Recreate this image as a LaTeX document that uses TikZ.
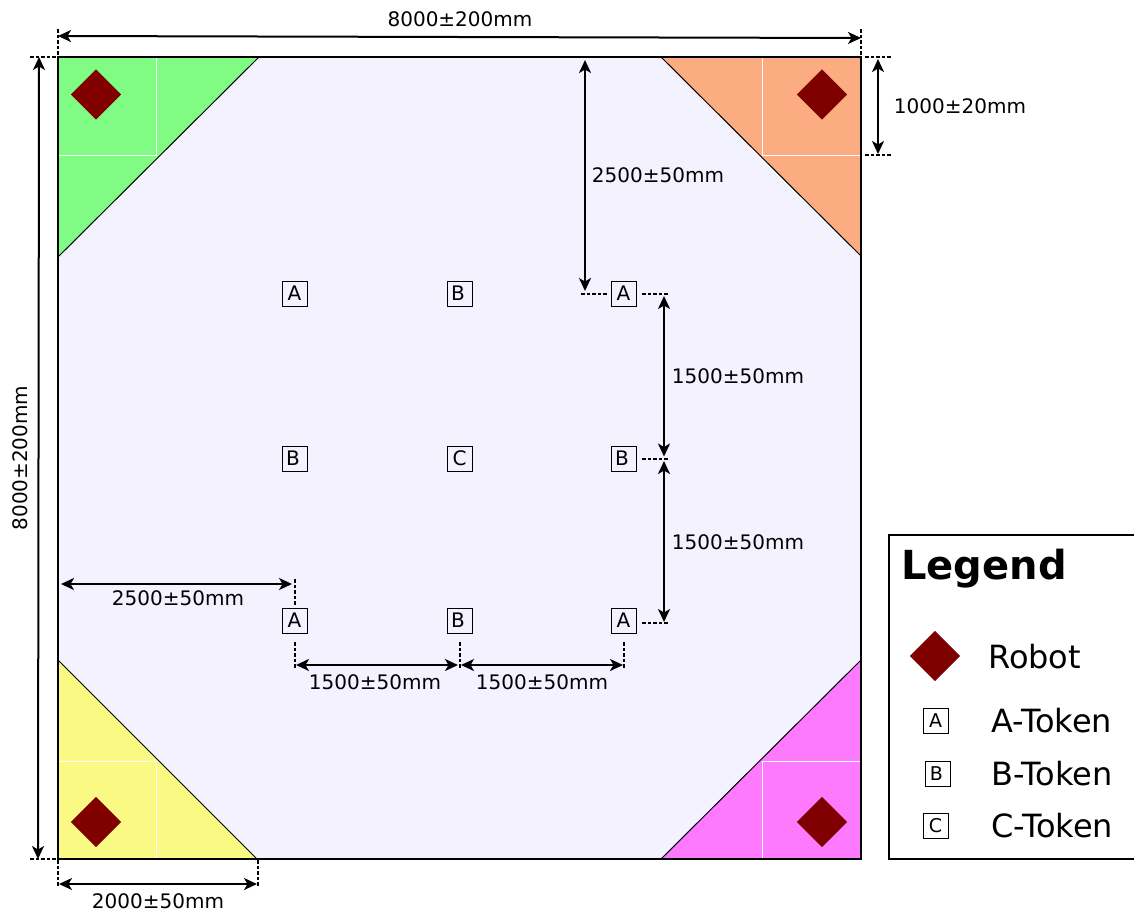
\documentclass[tikz,border=0pt]{standalone}
\usepackage{fontspec}
\setmainfont{DejaVu Sans}
\usetikzlibrary{arrows.meta}
\definecolor{fieldc}{HTML}{F4F2FF}
\definecolor{greenc}{HTML}{80FC84}
\definecolor{orangec}{HTML}{FBAD81}
\definecolor{yellowc}{HTML}{F9F983}
\definecolor{magentac}{HTML}{FD79FD}
\definecolor{robotc}{HTML}{800000}
\tikzset{
  border/.style={draw=black,line width=2pt,line join=miter},
  diag/.style={draw=black,line width=1pt},
  whitebox/.style={draw=white,line width=1pt},
  robotmark/.style={fill=robotc,draw=none,shape=rectangle,inner sep=0pt,minimum size=35.4pt,rotate=45},
  token/.style={draw=black,line width=0.9pt,inner sep=0pt,minimum size=25pt,font=\fontsize{20}{20}\selectfont},
  ltoken/.style={token,minimum size=25pt,font=\fontsize{19}{19}\selectfont},
  dimline/.style={draw=black,line width=2pt,{Stealth[length=13pt,width=12pt,inset=3.5pt]}-{Stealth[length=13pt,width=12pt,inset=3.5pt]}},
  extline/.style={draw=black,line width=1.8pt,dash pattern=on 3.6pt off 2pt},
  dimtext/.style={inner sep=0pt,font=\fontsize{20}{20}\selectfont},
  legtext/.style={inner sep=0pt,anchor=base west,font=\fontsize{32}{32}\selectfont},
}
\begin{document}
\begin{tikzpicture}[x=1pt,y=-1pt]
\useasboundingbox (0,0) rectangle (1134,916);
% field
\fill[fieldc] (58,57) rectangle (861,859);
\fill[greenc] (58,57) -- (259,57) -- (58,257) -- cycle;
\fill[orangec] (861,57) -- (661,57) -- (861,256) -- cycle;
\fill[yellowc] (58,859) -- (257,859) -- (58,660) -- cycle;
\fill[magentac] (861,859) -- (661,859) -- (861,660) -- cycle;
\draw[whitebox] (58,155.5) -- (156.5,155.5) -- (156.5,57);
\draw[whitebox] (861,155.5) -- (762.5,155.5) -- (762.5,57);
\draw[whitebox] (58,761.5) -- (156.5,761.5) -- (156.5,859);
\draw[whitebox] (861,761.5) -- (762.5,761.5) -- (762.5,859);
\draw[diag] (259,57) -- (58,257);
\draw[diag] (661,57) -- (861,256);
\draw[diag] (257,859) -- (58,660);
\draw[diag] (661,859) -- (861,660);
\draw[border] (58,57) rectangle (861,859);
% robots
\node[robotmark] (r1) at (96,94.5) {};
\node[robotmark] (r2) at (822,94.5) {};
\node[robotmark] (r3) at (96,822) {};
\node[robotmark] (r4) at (822,822) {};
% tokens
\node[token] (t11) at (294.5,293.5) {A};
\node[token] (t12) at (459.5,293.5) {\hspace*{-3pt}B};
\node[token] (t13) at (623.5,293.5) {A};
\node[token] (t21) at (294.5,458.5) {\hspace*{-3pt}B};
\node[token] (t22) at (459.5,458.5) {C};
\node[token] (t23) at (623.5,458.5) {\hspace*{-3pt}B};
\node[token] (t31) at (294.5,620.5) {A};
\node[token] (t32) at (459.5,620.5) {\hspace*{-3pt}B};
\node[token] (t33) at (623.5,620.5) {A};
% anchors for dimension lines
\coordinate (tl) at (58,57);
\coordinate (tr) at (861,57);
\coordinate (bl) at (58,859);
\coordinate (br) at (861,859);
\coordinate (tlT) at (58,29); \coordinate (trT) at (861,29);
\coordinate (tlL) at (30,57); \coordinate (blL) at (30,859);
\coordinate (dTa) at (58,36); \coordinate (dTb) at (861,38);
\coordinate (dLa) at (39,57); \coordinate (dLb) at (38,859);
\coordinate (e1a) at (865,57); \coordinate (e1b) at (891,57);
\coordinate (e2a) at (865,155); \coordinate (e2b) at (891,155);
\coordinate (d1a) at (878,59); \coordinate (d1b) at (878,154);
\coordinate (d2a) at (585,60); \coordinate (d2b) at (585,291);
\coordinate (e3a) at (581,294); \coordinate (e3b) at (607,294);
\coordinate (e4a) at (642,294); \coordinate (e4b) at (668,294);
\coordinate (e5a) at (642,459); \coordinate (e5b) at (668,459);
\coordinate (e6a) at (642,623); \coordinate (e6b) at (668,623);
\coordinate (d3a) at (664,296); \coordinate (d3b) at (664,456.5);
\coordinate (d4a) at (664,461); \coordinate (d4b) at (664,622);
\coordinate (d5a) at (61,584); \coordinate (d5b) at (292,584);
\coordinate (e7a) at (295,579); \coordinate (e7b) at (295,605);
\coordinate (e8a) at (295,642); \coordinate (e8b) at (295,668);
\coordinate (e9a) at (460,642); \coordinate (e9b) at (460,668);
\coordinate (e10a) at (624,642); \coordinate (e10b) at (624,668);
\coordinate (d6a) at (296,665); \coordinate (d6b) at (458,665);
\coordinate (d7a) at (461,665); \coordinate (d7b) at (623,665);
\coordinate (e11a) at (58,860); \coordinate (e11b) at (58,887);
\coordinate (e12a) at (258,860); \coordinate (e12b) at (258,887);
\coordinate (d8a) at (59,884); \coordinate (d8b) at (257,884);
% extension lines
\foreach \a/\b in {tlT/tl,trT/tr,tlL/tl,blL/bl,e1a/e1b,e2a/e2b,e3a/e3b,e4a/e4b,e5a/e5b,e6a/e6b,e7a/e7b,e8a/e8b,e9a/e9b,e10a/e10b,e11a/e11b,e12a/e12b}
  \draw[extline] (\a) -- (\b);
% dimension arrows
\foreach \a/\b in {dTa/dTb,dLa/dLb,d1a/d1b,d2a/d2b,d3a/d3b,d4a/d4b,d5a/d5b,d6a/d6b,d7a/d7b,d8a/d8b}
  \draw[dimline] (\a) -- (\b);
% dimension labels
\node[dimtext] (l1) at (460,19) {8000±200mm};
\node[dimtext,rotate=90] (l2) at (20,458) {8000±200mm};
\node[dimtext] (l3) at (960,106) {1000±20mm};
\node[dimtext] (l4) at (658,175) {2500±50mm};
\node[dimtext] (l5) at (738,376) {1500±50mm};
\node[dimtext] (l6) at (738,542) {1500±50mm};
\node[dimtext] (l7) at (178,598) {2500±50mm};
\node[dimtext] (l8) at (375,682) {1500±50mm};
\node[dimtext] (l9) at (542,682) {1500±50mm};
\node[dimtext] (l10) at (158,901) {2000±50mm};
% legend
\draw[draw=black,line width=2.4pt] (1135,535) -- (889,535) -- (889,859) -- (1135,859);
\node[inner sep=0pt,anchor=base west,font=\fontsize{40}{40}\selectfont\bfseries] (lg) at (901,579) {Legend};
\node[robotmark] (lr) at (935,656) {};
\node[legtext] (lrt) at (988,668) {Robot};
\node[ltoken] (la) at (935.5,720.5) {A};
\node[legtext] (lat) at (991,732) {A-Token};
\node[ltoken] (lb) at (937.5,773.5) {\hspace*{-2pt}B};
\node[legtext] (lbt) at (991,785) {B-Token};
\node[ltoken] (lc) at (935.5,825.5) {C};
\node[legtext] (lct) at (991,837) {C-Token};
\end{tikzpicture}
\end{document}
